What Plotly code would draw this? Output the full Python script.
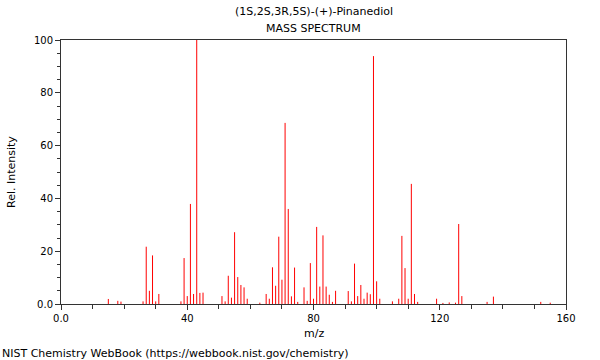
import plotly.graph_objects as go

title_line1 = "(1S,2S,3R,5S)-(+)-Pinanediol"
title_line2 = "MASS SPECTRUM"
x_label = "m/z"
y_label = "Rel. Intensity"
footer = "NIST Chemistry WebBook (https://webbook.nist.gov/chemistry)"

mz = [15, 18, 19, 26, 27, 28, 29, 30, 31, 38, 39, 40, 41, 42, 43, 44, 45,
      51, 52, 53, 54, 55, 56, 57, 58, 59, 63, 65, 66, 67, 68, 69, 70, 71, 72,
      73, 74, 75, 77, 78, 79, 80, 81, 82, 83, 84, 85, 86, 87, 91, 92, 93, 94,
      95, 96, 97, 98, 99, 100, 101, 105, 107, 108, 109, 110, 111, 112, 113,
      119, 121, 123, 125, 126, 127, 135, 137, 152, 155]
intensity = [1.9, 1.2, 0.9, 1.0, 21.7, 5.0, 18.4, 1.0, 3.8, 1.0, 17.4, 3.0, 37.9, 3.8, 100, 4.2, 4.3,
             3.0, 1.0, 10.7, 2.4, 27.2, 10.2, 7.2, 6.3, 2.0, 0.5, 3.8, 2.0, 13.9, 6.9, 25.5, 9.2, 68.6, 36.0,
             2.9, 13.8, 0.8, 6.3, 1.2, 15.5, 2.0, 29.2, 6.6, 26.0, 6.6, 3.5, 0.8, 5.0, 4.9, 1.0, 15.3, 3.0,
             7.2, 2.0, 4.3, 3.7, 93.9, 8.6, 2.0, 1.0, 2.0, 25.8, 13.6, 2.0, 45.5, 3.8, 0.8,
             2.0, 0.4, 0.6, 0.5, 30.3, 3.0, 0.8, 2.8, 0.8, 0.5]

x_tickvals = [0, 40, 80, 120, 160]
x_ticktext = ["0.0", "40", "80", "120", "160"]
y_tickvals = [0, 20, 40, 60, 80, 100]
y_ticktext = ["0.0", "20", "40", "60", "80", "100"]

xs, ys = [], []
for m, v in zip(mz, intensity):
    xs += [m, m, None]
    ys += [0, v, None]

fig = go.Figure()
fig.add_trace(go.Scatter(x=xs, y=ys, mode="lines",
                         line=dict(color="#ff0000", width=1),
                         hoverinfo="skip", showlegend=False))

font = dict(family="DejaVu Sans", size=11, color="#000000")
axis_common = dict(showgrid=False, zeroline=False, showline=True, linecolor="#333333",
                   linewidth=1, mirror=True, ticks="outside", ticklen=5, tickwidth=1,
                   tickcolor="#333333", tickfont=dict(family="DejaVu Sans", size=10, color="#000000"))

fig.update_layout(
    width=600, height=360,
    margin=dict(l=61, r=34, t=40, b=56, autoexpand=False),
    paper_bgcolor="white", plot_bgcolor="white",
    font=font,
    xaxis=dict(range=[0, 160], tickvals=x_tickvals, ticktext=x_ticktext,
               minor=dict(dtick=10, tick0=0, ticks="outside", ticklen=4, tickcolor="#333333"),
               **axis_common),
    yaxis=dict(range=[0, 100], tickvals=y_tickvals, ticktext=y_ticktext,
               minor=dict(dtick=5, tick0=0, ticks="outside", ticklen=3, tickcolor="#333333"),
               **axis_common),
    annotations=[
        dict(text=title_line1, xref="paper", yref="paper", x=0.5, y=1, yanchor="bottom",
             yshift=20, showarrow=False, font=font),
        dict(text=title_line2, xref="paper", yref="paper", x=0.5, y=1, yanchor="bottom",
             yshift=3, showarrow=False, font=font),
        dict(text=x_label, xref="paper", yref="paper", x=0.5, y=0, yanchor="top",
             yshift=-21, showarrow=False, font=font),
        dict(text=y_label, xref="paper", yref="paper", x=0, y=0.5, xanchor="center",
             xshift=-50, textangle=-90, showarrow=False, font=font),
        dict(text=footer, xref="paper", yref="paper", x=0, y=0, xanchor="left", yanchor="top",
             xshift=-61, yshift=-41, showarrow=False, font=font),
    ],
)

fig.write_html("out.html", config={"displayModeBar": False},
               post_script="document.body.style.margin='0';document.body.style.overflow='hidden';")
